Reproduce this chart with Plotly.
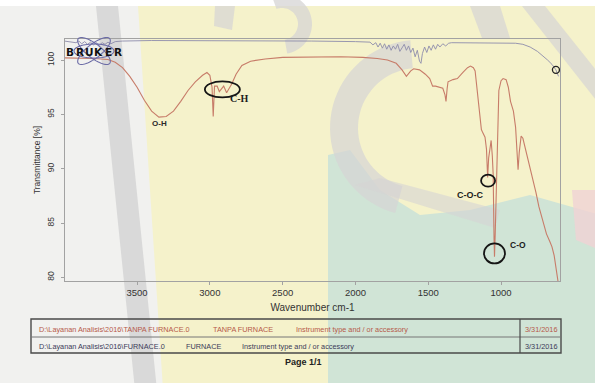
import numpy as np
import plotly.graph_objects as go

# ---- FTIR spectra: wavenumber (cm-1) vs transmittance (%) ----
tanpa_wn = [4000, 3900, 3800, 3700, 3650, 3600, 3550, 3500, 3450, 3400, 3350, 3300,
            3250, 3200, 3150, 3100, 3050, 3020, 3000, 2985, 2977, 2968, 2950, 2935,
            2920, 2905, 2885, 2865, 2850, 2820, 2780, 2720, 2620, 2500, 2300, 2100,
            1950, 1850, 1780, 1720, 1680, 1650, 1620, 1600, 1560, 1520, 1490, 1470,
            1450, 1420, 1400, 1385, 1378, 1370, 1364, 1330, 1300, 1260, 1230, 1210,
            1190, 1178, 1165, 1150, 1135, 1125, 1110, 1100, 1092, 1085, 1075, 1068,
            1060, 1054, 1048, 1045, 1040, 1034, 1025, 1015, 1000, 986, 965, 950,
            935, 915, 900, 890, 883, 875, 862, 850, 835, 815, 790, 760, 740, 710,
            688, 665, 650, 635, 620, 605]
tanpa_t = [100.2, 100.2, 100.15, 100.05, 99.8, 99.3, 98.5, 97.5, 96.3, 95.3, 94.75, 94.8,
           95.3, 96.2, 97.2, 98.0, 98.6, 98.85, 98.6, 97.5, 94.8, 97.6, 97.6, 97.1,
           97.4, 97.6, 97.0, 97.5, 97.8, 98.7, 99.5, 99.9, 100.1, 100.25, 100.3, 100.3,
           100.25, 100.15, 100.0, 99.7, 99.1, 98.5, 99.0, 99.2, 99.1, 98.7, 98.3, 97.6,
           97.6, 97.5, 97.4, 96.8, 96.2, 97.4, 98.0, 98.2, 98.3, 98.9, 99.3, 99.45,
           99.3, 99.0, 97.5, 95.5, 93.6, 93.3, 92.9, 91.8, 89.2, 91.0, 92.3, 92.6,
           91.2, 89.5, 83.5, 81.9, 84.0, 88.0, 93.5, 97.2, 98.1, 98.3, 98.2, 97.5,
           96.2, 95.3, 93.8, 91.5, 89.9, 91.5, 93.0, 92.8, 92.0, 91.0, 89.6, 87.8,
           86.5, 85.0, 84.0, 83.3, 82.8, 82.0, 80.5, 79.3]

furnace_wn = [4000, 3950, 3920, 3900, 3880, 3860, 3840, 3820, 3800, 3780, 3760, 3740,
              3720, 3700, 3680, 3650, 3600, 3400, 3000, 2600, 2300, 2000, 1900, 1880,
              1860, 1845, 1830, 1815, 1800, 1785, 1770, 1755, 1740, 1725, 1710, 1695,
              1680, 1665, 1650, 1635, 1620, 1605, 1590, 1575, 1560, 1550, 1540, 1525,
              1510, 1495, 1480, 1465, 1450, 1435, 1420, 1400, 1380, 1360, 1340, 1300,
              1200, 1000, 900, 850, 800, 750, 714, 680, 650, 623, 605]
furnace_t = [101.75, 101.7, 101.6, 101.75, 101.5, 101.7, 101.45, 101.65, 101.4, 101.6, 101.35, 101.6,
             101.45, 101.65, 101.5, 101.7, 101.75, 101.8, 101.8, 101.8, 101.75, 101.7, 101.65, 101.4,
             101.6, 101.2, 101.55, 101.1, 101.5, 101.0, 101.4, 100.9, 101.3, 101.0, 101.45, 100.8,
             101.2, 101.45, 100.9, 101.3, 100.7, 101.1, 100.3, 100.9, 99.9, 99.7, 100.6, 101.2,
             100.7, 101.3, 100.9, 101.4, 101.0, 101.45, 101.2, 101.5, 101.3, 101.55, 101.6, 101.6,
             101.6, 101.6, 101.55, 101.45, 101.2, 100.8, 100.4, 100.0, 99.6, 99.1, 98.5]

# end-of-scan marker on the FURNACE curve
marker_wn = [623]
marker_t = [99.1]

# band assignments: label, wavenumber, transmittance
band_labels = ["O-H", "C-H", "C-O-C", "C-O"]
band_label_wn = [3349, 2794, 1213, 883]
band_label_t = [94.2, 96.5, 87.6, 82.95]
# highlighted peaks: wavenumber, transmittance, half-width px, half-height px
ring_wn = [2914, 1089, 1045]
ring_t = [97.3, 88.9, 82.2]
ring_rx = [17.5, 7, 10.5]
ring_ry = [8, 6, 10]

x_ticks = [3500, 3000, 2500, 2000, 1500, 1000]
y_ticks = [80, 85, 90, 95, 100]

# file table
file_rows = [
    ["D:\\Layanan Analisis\\2016\\TANPA FURNACE.0", "TANPA FURNACE",
     "Instrument type and / or accessory", "3/31/2016"],
    ["D:\\Layanan Analisis\\2016\\FURNACE.0", "FURNACE",
     "Instrument type and / or accessory", "3/31/2016"],
]

W, H = 595, 383
L, R, T, B = 65, 560, 39, 281


def px(x):
    return (x - L) / (R - L)


def py(y):
    return (B - y) / (B - T)


def poly(points):
    return "M " + " L ".join(f"{px(a):.4f},{py(b):.4f}" for a, b in points) + " Z"


def ellipse_path(cx, cy, a, b, ang):
    th = np.linspace(0, 2 * np.pi, 60)
    c, s = np.cos(np.radians(ang)), np.sin(np.radians(ang))
    xs = cx + a * np.cos(th) * c - b * np.sin(th) * s
    ys = cy + a * np.cos(th) * s + b * np.sin(th) * c
    return "M " + " L ".join(f"{px(u):.4f},{py(v):.4f}" for u, v in zip(xs, ys)) + " Z"


def arc_band(cx, cy, r_out, r_in, a0, a1):
    th = np.radians(np.linspace(a0, a1, 40))
    outer = [(cx + r_out * np.cos(t), cy - r_out * np.sin(t)) for t in th]
    inner = [(cx + r_in * np.cos(t), cy - r_in * np.sin(t)) for t in th[::-1]]
    return poly(outer + inner)


fig = go.Figure()

fig.add_trace(go.Scatter(x=furnace_wn, y=furnace_t, mode="lines", name="FURNACE",
                         line=dict(color="#8d8cab", width=0.9)))
fig.add_trace(go.Scatter(x=tanpa_wn, y=tanpa_t, mode="lines", name="TANPA FURNACE",
                         line=dict(color="#c77c69", width=1.1)))
fig.add_trace(go.Scatter(x=marker_wn, y=marker_t, mode="markers", showlegend=False,
                         marker=dict(symbol="circle-open", size=7, color="#222",
                                     line=dict(color="#222", width=1.3))))

GREY = "#d6d4d4"
shapes = []
# page watermark layers
shapes.append(dict(type="path", path=poly([(-100, 6), (700, 6), (700, 420), (-100, 420)]),
                   xref="paper", yref="paper", fillcolor="#f1f1ef", line_width=0, layer="below"))
shapes.append(dict(type="path", path=poly([(138, 6), (700, 6), (700, 420), (165, 420)]),
                   xref="paper", yref="paper", fillcolor="#f5f2cb", line_width=0, layer="below"))
shapes.append(dict(type="path", path=poly([(96, 6), (118, 6), (160, 420), (138, 420)]),
                   xref="paper", yref="paper", fillcolor="#d9d9d9", line_width=0, layer="below"))
shapes.append(dict(type="path",
                   path=poly([(328, 420), (328, 155), (350, 150), (380, 190), (420, 215),
                              (470, 210), (530, 195), (600, 215), (600, 420)]),
                   xref="paper", yref="paper", fillcolor="#d0e4d6", line_width=0, layer="below"))
shapes.append(dict(type="path", path=arc_band(418, 128, 88, 60, 95, 255),
                   xref="paper", yref="paper", fillcolor=GREY, opacity=0.7,
                   line_width=0, layer="below"))
shapes.append(dict(type="path", path=poly([(355, 185), (380, 178), (500, 210), (495, 228)]),
                   xref="paper", yref="paper", fillcolor=GREY, opacity=0.6,
                   line_width=0, layer="below"))
shapes.append(dict(type="path", path=arc_band(282, 24, 30, 16, -80, 110),
                   xref="paper", yref="paper", fillcolor=GREY, opacity=0.75,
                   line_width=0, layer="below"))
shapes.append(dict(type="path", path=poly([(215, 6), (235, 6), (232, 30), (214, 26)]),
                   xref="paper", yref="paper", fillcolor=GREY, opacity=0.7,
                   line_width=0, layer="below"))
shapes.append(dict(type="path", path=poly([(470, 6), (500, 6), (510, 38), (482, 38)]),
                   xref="paper", yref="paper", fillcolor=GREY, opacity=0.7,
                   line_width=0, layer="below"))
shapes.append(dict(type="path", path=poly([(522, 6), (545, 6), (600, 75), (600, 105)]),
                   xref="paper", yref="paper", fillcolor=GREY, opacity=0.7,
                   line_width=0, layer="below"))
shapes.append(dict(type="path", path=poly([(572, 190), (600, 190), (600, 250), (576, 240)]),
                   xref="paper", yref="paper", fillcolor="#f0d2d4", opacity=0.8,
                   line_width=0, layer="below"))

# Bruker atom logo
for ang in (0, 38, -38):
    shapes.append(dict(type="path", path=ellipse_path(94, 51, 20, 7, ang),
                       xref="paper", yref="paper", line=dict(color="#6b6ba6", width=1.1)))

# rings around assigned bands
for wn, tv, rx, ry in zip(ring_wn, ring_t, ring_rx, ring_ry):
    shapes.append(dict(type="circle", xref="x", yref="y", xsizemode="pixel", ysizemode="pixel",
                       xanchor=wn, yanchor=tv, x0=-rx, x1=rx, y0=-ry, y1=ry,
                       line=dict(color="#151515", width=1.8)))

# file table frame
tl, tr, tt, tm, tb, tv_x = 31, 561, 319, 337, 353, 520
shapes.append(dict(type="rect", xref="paper", yref="paper", x0=px(tl), x1=px(tr),
                   y0=py(tb), y1=py(tt), line=dict(color="#4a4a4a", width=1.4)))
shapes.append(dict(type="line", xref="paper", yref="paper", x0=px(tl), x1=px(tr),
                   y0=py(tm), y1=py(tm), line=dict(color="#777", width=1)))
shapes.append(dict(type="line", xref="paper", yref="paper", x0=px(tv_x), x1=px(tv_x),
                   y0=py(tb), y1=py(tt), line=dict(color="#4a4a4a", width=1.2)))

annotations = []
# wide-set logo lettering
for i, ch in enumerate("BRUKER"):
    annotations.append(dict(text=f"<b>{ch}</b>", x=px(70 + 9.6 * i), y=py(52),
                            xref="paper", yref="paper", xanchor="center", yanchor="middle",
                            showarrow=False,
                            font=dict(family="DejaVu Sans", size=10.5, color="#111")))
fonts = [dict(family="Liberation Sans", size=8, color="#2a2a2a"),
         dict(family="Liberation Serif", size=10, color="#1c1c1c"),
         dict(family="Liberation Sans", size=9, color="#1c1c1c"),
         dict(family="Liberation Sans", size=8.5, color="#1c1c1c")]
for lab, wn, tv, f in zip(band_labels, band_label_wn, band_label_t, fonts):
    annotations.append(dict(text=f"<b>{lab}</b>", x=wn, y=tv, xref="x", yref="y",
                            xanchor="center", yanchor="middle", showarrow=False, font=f))

row_colors = ["#b65a4a", "#3b3b58"]
row_y = [329, 346]
col_x = [[37, 211, 294, 523], [37, 184, 240, 523]]
for row, ry, cx_list, col in zip(file_rows, row_y, col_x, row_colors):
    for txt, cx in zip(row, cx_list):
        annotations.append(dict(text=txt, x=px(cx), y=py(ry), xref="paper", yref="paper",
                                xanchor="left", yanchor="middle", showarrow=False,
                                font=dict(family="Liberation Sans", size=7.3, color=col)))
annotations.append(dict(text="<b>Page 1/1</b>", x=px(303), y=py(362), xref="paper",
                        yref="paper", xanchor="center", yanchor="middle", showarrow=False,
                        font=dict(family="Liberation Sans", size=9, color="#222")))

fig.update_layout(
    width=W, height=H,
    margin=dict(l=L, r=W - R, t=T, b=H - B),
    paper_bgcolor="#ffffff",
    plot_bgcolor="rgba(0,0,0,0)",
    showlegend=False,
    shapes=shapes,
    annotations=annotations,
    xaxis=dict(range=[3995, 595], tickvals=x_ticks, ticktext=[str(v) for v in x_ticks],
               showgrid=False, zeroline=False, showline=True, mirror=True,
               linecolor="#a2a2a2", linewidth=1, ticks="outside", ticklen=3,
               tickcolor="#a2a2a2",
               tickfont=dict(family="Liberation Sans", size=9.5, color="#333"),
               title=dict(text="Wavenumber cm-1", standoff=6,
                          font=dict(family="Liberation Sans", size=10, color="#333"))),
    yaxis=dict(range=[79.66, 101.94], tickvals=y_ticks, ticktext=[str(v) for v in y_ticks],
               showgrid=False, zeroline=False, showline=True, mirror=True,
               linecolor="#a2a2a2", linewidth=1, ticks="outside", ticklen=3,
               tickcolor="#a2a2a2", tickangle=-90, ticklabelstandoff=4,
               tickfont=dict(family="Liberation Sans", size=8.5, color="#333"),
               title=dict(text="Transmittance [%]", standoff=3,
                          font=dict(family="Liberation Sans", size=8.5, color="#333"))),
)

fig.write_html("out.html")
